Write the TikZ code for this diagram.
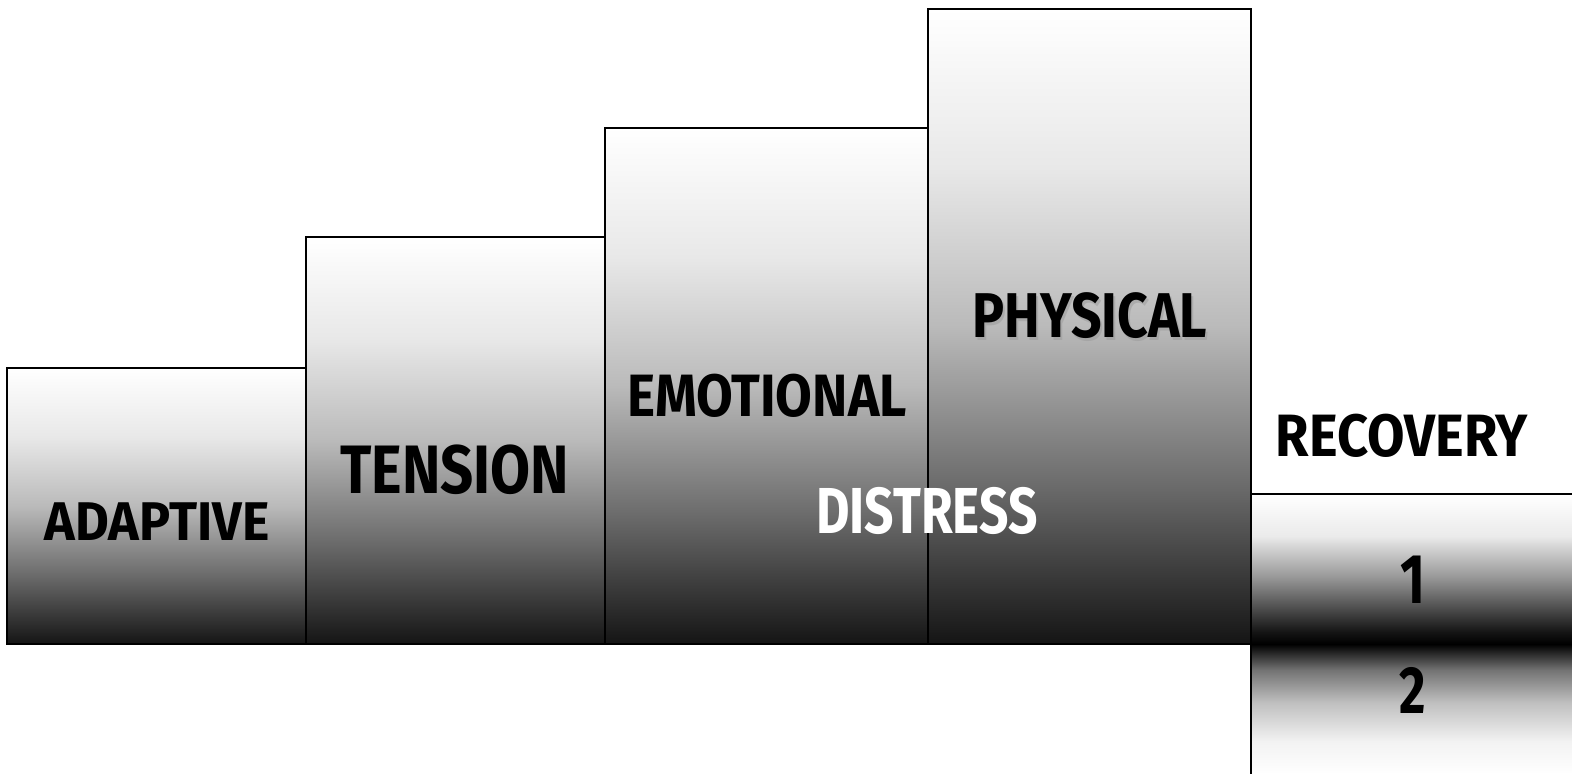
\documentclass[tikz,border=0pt]{standalone}
\usepackage{graphicx}
\usepackage{fontspec}
\setmainfont{Fira Sans}[FakeStretch=0.9]
\usetikzlibrary{positioning}

% squeeze a label to the width of the original lettering
\newcommand{\squeeze}[2]{\scalebox{#1}[1]{#2}}

% fades, bottom to top (the box spans 25bp to 75bp)
\pgfdeclareverticalshading{barfade}{100bp}{color(0bp)=(black!92); color(25bp)=(black!92);
    color(37.5bp)=(black!58); color(50bp)=(black!27); color(62.5bp)=(black!9);
    color(75bp)=(white); color(100bp)=(white)}
\pgfdeclareverticalshading{upperfade}{100bp}{color(0bp)=(black); color(25bp)=(black);
    color(29bp)=(black!92); color(47.5bp)=(black!40); color(61bp)=(black!8);
    color(75bp)=(white); color(100bp)=(white)}
\pgfdeclareverticalshading{lowerfade}{100bp}{color(0bp)=(white); color(25bp)=(white);
    color(37.5bp)=(black!5); color(52.5bp)=(black!25); color(65bp)=(black!55);
    color(75bp)=(black); color(100bp)=(black)}

\begin{document}
\begin{tikzpicture}[
    x=0.02cm, y=-0.02cm,
    bar/.style={draw=black, line width=0.7pt, shade, shading=barfade},
    stage/.style={inner sep=0pt, text=black, font=\bfseries\fontsize{#1}{#1}\selectfont},
    stage/.default=34
]
\useasboundingbox (0,0) rectangle (1572,774);

% ===== Stress bars =====
\draw[bar] (7,368) rectangle (306,644);
\draw[bar] (306,237) rectangle (605,644);
\draw[bar] (605,128) rectangle (928,644);
\draw[bar] (928,9) rectangle (1251,644);
\draw[line width=1.4pt] (7,368) -- (306,368) (306,237) -- (605,237)
    (605,128) -- (928,128) (928,9) -- (1251,9);

% ===== Recovery boxes =====
\path[shade, shading=upperfade] (1251,494) rectangle (1572,644);
\path[shade, shading=lowerfade] (1251,644) rectangle (1572,774);
\coordinate (rectop) at (1251,494);
\coordinate (recend) at (1572,494);
\coordinate (recfoot) at (1251,774);
\draw[line width=0.9pt] (rectop) -- (recend);
\draw[line width=0.7pt] (rectop) -- (recfoot);

% Labels
\node[stage=31] (adaptive) at (157,522) {\squeeze{1.06}{ADAPTIVE}};
\node[stage=39] (tension) at (455,470) {\squeeze{0.94}{TENSION}};
\node[stage=34] (emotional) at (767,396) {\squeeze{0.99}{EMOTIONAL}};
\node[stage=36, text=black!40, opacity=0.5] (physicalshadow) at (1092,319) {\squeeze{0.94}{PHYSICAL}};
\node[stage=36] (physical) at (1090,316) {\squeeze{0.94}{PHYSICAL}};
\node[stage=34] (recovery) at (1402,436) {\squeeze{1.01}{RECOVERY}};
\node[stage=37, text=white] (distress) at (927,511) {\squeeze{0.88}{DISTRESS}};
\node[stage=40] (one) at (1413,580) {\squeeze{0.85}{1}};
\node[stage=38] (two) at (1413,690) {\squeeze{0.85}{2}};

\end{tikzpicture}
\end{document}
